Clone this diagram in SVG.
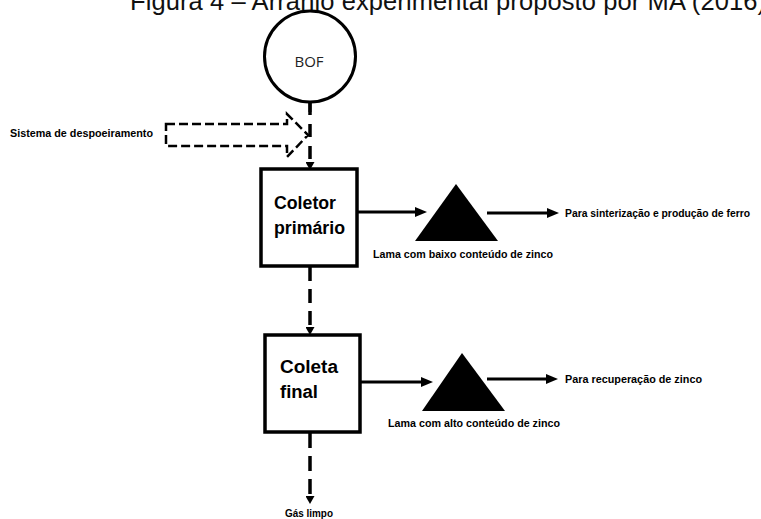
<svg xmlns="http://www.w3.org/2000/svg" width="761" height="519" viewBox="0 0 761 519">
<style>
.t{font-family:"Liberation Sans",Arial,sans-serif;fill:#111}
.lbl{font-family:"Liberation Sans",Arial,sans-serif;font-weight:bold;fill:#000}
.box{fill:#fff;stroke:#000;stroke-width:3.5}
.dash{fill:none;stroke:#000;stroke-width:3.5}
.solid{fill:none;stroke:#000;stroke-width:3}
</style>
<defs>
<marker id="ad" markerUnits="userSpaceOnUse" viewBox="0 0 8 9" refX="0" refY="4.5" markerWidth="8" markerHeight="9" orient="auto"><path d="M0,0 L8,4.5 L0,9 Z" fill="#000"/></marker>
<marker id="as" markerUnits="userSpaceOnUse" viewBox="0 0 12 10" refX="0" refY="5" markerWidth="12" markerHeight="10" orient="auto"><path d="M0,0 L12,5 L0,10 Z" fill="#000"/></marker>
</defs>
<rect width="761" height="519" fill="#fff"/>
<text class="t" x="130" y="9.5" font-size="25.5" textLength="636" lengthAdjust="spacing">Figura 4 – Arranjo experimental proposto por MA (2016)</text>
<g id="connectors">
<path d="M310,102 V112" class="solid" stroke-width="3"/>
<path d="M310,102 V162" class="dash" stroke-dasharray="13 9" marker-end="url(#ad)"/>
<path d="M310,267 V327" class="dash" stroke-dasharray="14 8" marker-end="url(#ad)"/>
<path d="M310,433 V496" class="dash" stroke-dasharray="15 8" marker-end="url(#ad)"/>
<path d="M357,212 H415" class="solid" marker-end="url(#as)"/>
<path d="M487,213 H547" class="solid" marker-end="url(#as)"/>
<path d="M360,382 H421" class="solid" marker-end="url(#as)"/>
<path d="M487,379 H546" class="solid" marker-end="url(#as)"/>
</g>
<g id="despoeiramento">
<path d="M166,124 H287 V114 L308,135 L287,157 V146 H166 Z" fill="none" stroke="#000" stroke-width="2.5" stroke-dasharray="9 4"/>
<text class="lbl" x="10" y="137" font-size="10.5" textLength="143" lengthAdjust="spacingAndGlyphs">Sistema de despoeiramento</text>
</g>
<g id="bof">
<circle cx="310" cy="56.5" r="45.5" fill="#fff" stroke="#000" stroke-width="3"/>
<text x="309" y="67" font-size="15" text-anchor="middle" style="font-family:'Open Sans','Liberation Sans',sans-serif;fill:#222">BOF</text>
</g>
<g id="coletor">
<rect class="box" x="261" y="169" width="96" height="97"/>
<text class="lbl" x="274" y="209" font-size="18" textLength="62" lengthAdjust="spacingAndGlyphs">Coletor</text>
<text class="lbl" x="274" y="234" font-size="18" textLength="71" lengthAdjust="spacingAndGlyphs">primário</text>
</g>
<g id="lama-baixo">
<polygon points="456,184 498,241 415,241" fill="#000"/>
<text class="lbl" x="373" y="258" font-size="10" textLength="180" lengthAdjust="spacingAndGlyphs">Lama com baixo conteúdo de zinco</text>
</g>
<g id="sinterizacao">
<text class="lbl" x="565" y="217" font-size="10.3" textLength="185" lengthAdjust="spacingAndGlyphs">Para sinterização e produção de ferro</text>
</g>
<g id="coleta">
<rect class="box" x="265" y="335" width="95" height="97"/>
<text class="lbl" x="280" y="373" font-size="18" textLength="58" lengthAdjust="spacingAndGlyphs">Coleta</text>
<text class="lbl" x="280" y="398" font-size="18" textLength="38" lengthAdjust="spacingAndGlyphs">final</text>
</g>
<g id="lama-alto">
<polygon points="462,353 505,411 422,411" fill="#000"/>
<text class="lbl" x="388" y="427" font-size="10" textLength="172" lengthAdjust="spacingAndGlyphs">Lama com alto conteúdo de zinco</text>
</g>
<g id="recuperacao">
<text class="lbl" x="565" y="383" font-size="10.8" textLength="137" lengthAdjust="spacingAndGlyphs">Para recuperação de zinco</text>
</g>
<g id="gas">
<text class="lbl" x="285" y="517" font-size="10" textLength="48" lengthAdjust="spacingAndGlyphs">Gás limpo</text>
</g>
</svg>
